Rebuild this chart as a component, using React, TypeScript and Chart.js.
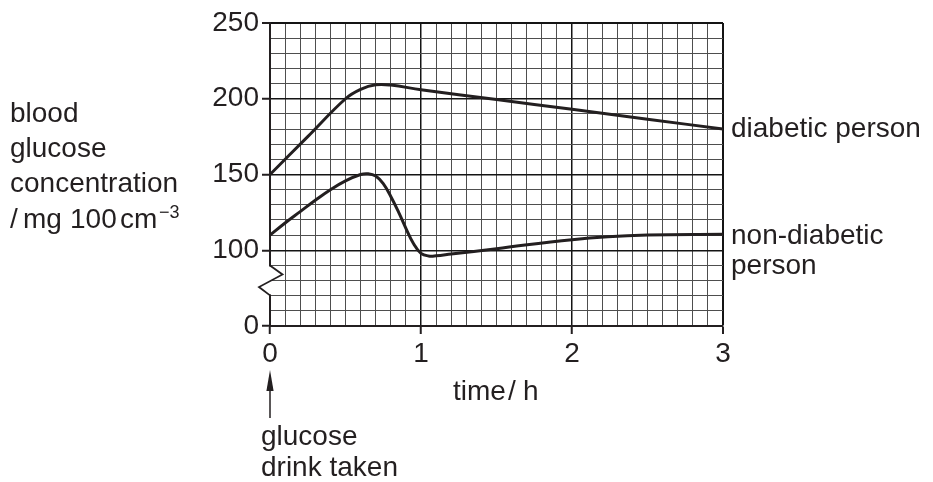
import React, { useEffect, useRef } from "react";
import { Chart, registerables } from "chart.js";

Chart.register(...registerables);

// ---- data ----
const diabeticTimes = [0, 0.25, 0.5, 0.6, 0.7, 0.8, 1.0, 1.5, 2.0, 2.5, 3.0];
const diabeticValues = [150, 175, 200, 206.2, 209.2, 209, 206, 199.5, 193, 186.5, 180];

const nonDiabeticTimes = [0, 0.1, 0.2, 0.3, 0.4, 0.5, 0.6, 0.65, 0.7, 0.75, 0.8, 0.85, 0.9, 0.95, 1.0, 1.05, 1.1, 1.2, 1.5, 2.0, 2.5, 3.0];
const nonDiabeticValues = [110, 118, 125.5, 133, 140, 145.8, 150, 150.5, 149, 144, 135.5, 125.5, 114.5, 104.5, 98, 96.2, 96.3, 97.5, 101, 107, 110, 110.5];

// y axis is broken: the bottom grid line (value 50 on the scale) is labelled "0"
const yMajorValues = [50, 100, 150, 200, 250];
const yTickLabels = ["0", "100", "150", "200", "250"];
const xMajorValues = [0, 1, 2, 3];
const xTickLabels = ["0", "1", "2", "3"];

const yTitleLines = ["blood", "glucose", "concentration"];
const seriesLabels = ["diabetic person", "non-diabetic", "person"];
const xTitleParts = ["time", "/", "h"];
const noteLines = ["glucose", "drink taken"];

const INK = "#231f20";
const FONT = '"Liberation Sans", Arial, Helvetica, sans-serif';

const near = (a: number, b: number) => Math.abs(a - b) < 1e-6;
const yMajorIndex = (v: number) => yMajorValues.findIndex((m) => near(m, v));
const xMajorIndex = (v: number) => xMajorValues.findIndex((m) => near(m, v));

const annotations = {
  id: "annotations",
  afterDraw(chart: any) {
    const { ctx, chartArea, scales } = chart;
    const left = chartArea.left;
    const y = scales.y;
    ctx.save();

    // axis break (zig-zag)
    const yb1 = y.getPixelForValue(90);
    const yb2 = y.getPixelForValue(84);
    const yb3 = y.getPixelForValue(75.7);
    const yb4 = y.getPixelForValue(70.2);
    ctx.fillStyle = "#ffffff";
    ctx.fillRect(left - 2, yb1 + 1, 4, yb4 - yb1 - 2);
    ctx.strokeStyle = INK;
    ctx.lineWidth = 1.8;
    ctx.lineJoin = "miter";
    ctx.beginPath();
    ctx.moveTo(left, yb1);
    ctx.lineTo(left + 12.5, yb2);
    ctx.lineTo(left - 11, yb3);
    ctx.lineTo(left, yb4);
    ctx.stroke();

    ctx.fillStyle = INK;
    ctx.textBaseline = "alphabetic";
    ctx.textAlign = "left";
    ctx.font = `28px ${FONT}`;

    // y-axis title
    const yTitleBaselines = [122, 157, 192];
    yTitleLines.forEach((t, i) => ctx.fillText(t, 10, yTitleBaselines[i]));
    ctx.fillText("/", 10, 227.5);
    ctx.fillText("mg", 23, 227.5);
    ctx.fillText("100", 70, 227.5);
    ctx.fillText("cm", 120, 227.5);
    ctx.font = `18px ${FONT}`;
    ctx.fillText("\u22123", 159, 217.5);
    ctx.font = `28px ${FONT}`;

    // series labels
    ctx.fillText(seriesLabels[0], 731, 137);
    ctx.fillText(seriesLabels[1], 731, 244);
    ctx.fillText(seriesLabels[2], 731, 273.5);

    // x-axis title
    ctx.fillText(xTitleParts[0], 453, 399.5);
    ctx.fillText(xTitleParts[1], 508, 399.5);
    ctx.fillText(xTitleParts[2], 523, 399.5);

    // arrow + note
    const ax = scales.x.getPixelForValue(0);
    ctx.lineWidth = 1.5;
    ctx.beginPath();
    ctx.moveTo(ax, 418);
    ctx.lineTo(ax, 388);
    ctx.stroke();
    ctx.beginPath();
    ctx.moveTo(ax, 370);
    ctx.lineTo(ax - 3.6, 391);
    ctx.lineTo(ax + 3.6, 391);
    ctx.closePath();
    ctx.fill();
    ctx.fillText(noteLines[0], 261, 445);
    ctx.fillText(noteLines[1], 261, 476);

    ctx.restore();
  },
};

export default function App() {
  const canvasRef = useRef<HTMLCanvasElement | null>(null);

  useEffect(() => {
    if (!canvasRef.current) return;
    const chart = new Chart(canvasRef.current, {
      type: "line",
      data: {
        datasets: [
          {
            label: "diabetic person",
            data: diabeticTimes.map((t, i) => ({ x: t, y: diabeticValues[i] })),
            borderColor: INK,
            borderWidth: 3,
            pointRadius: 0,
            tension: 0.4,
            fill: false,
          },
          {
            label: "non-diabetic person",
            data: nonDiabeticTimes.map((t, i) => ({ x: t, y: nonDiabeticValues[i] })),
            borderColor: INK,
            borderWidth: 3,
            pointRadius: 0,
            tension: 0.4,
            fill: false,
          },
        ],
      },
      options: {
        animation: false,
        responsive: false,
        devicePixelRatio: 1,
        layout: { padding: { left: 0, top: 23, right: 210, bottom: 0 } },
        plugins: {
          legend: { display: false },
          tooltip: { enabled: false },
          title: { display: false },
        },
        scales: {
          x: {
            type: "linear",
            min: 0,
            max: 3,
            afterFit: (s: any) => {
              s.height = 156;
            },
            ticks: {
              stepSize: 0.1,
              autoSkip: false,
              maxRotation: 0,
              padding: 3,
              color: INK,
              font: { family: FONT, size: 28 },
              callback: (v: any) => {
                const i = xMajorIndex(Number(v));
                return i >= 0 ? xTickLabels[i] : "";
              },
            },
            grid: {
              color: (c: any) => (c.tick && xMajorIndex(c.tick.value) >= 0 ? "#141414" : "#4e4e4e"),
              lineWidth: (c: any) => {
                if (!c.tick) return 1;
                if (near(c.tick.value, 3)) return 2;
                return xMajorIndex(c.tick.value) >= 0 ? 1.5 : 1;
              },
              tickLength: 8,
              tickWidth: 2,
              tickColor: (c: any) => (c.tick && xMajorIndex(c.tick.value) >= 0 ? INK : "rgba(0,0,0,0)"),
            },
            border: { display: true, color: INK, width: 2 },
          },
          y: {
            type: "linear",
            min: 50,
            max: 250,
            afterFit: (s: any) => {
              s.width = 270;
            },
            ticks: {
              stepSize: 10,
              autoSkip: false,
              padding: 3,
              color: INK,
              font: { family: FONT, size: 28 },
              callback: (v: any) => {
                const i = yMajorIndex(Number(v));
                return i >= 0 ? yTickLabels[i] : "";
              },
            },
            grid: {
              color: (c: any) => (c.tick && yMajorIndex(c.tick.value) >= 0 ? "#141414" : "#4e4e4e"),
              lineWidth: (c: any) => {
                if (!c.tick) return 1;
                if (near(c.tick.value, 250)) return 2;
                return yMajorIndex(c.tick.value) >= 0 ? 1.5 : 1;
              },
              tickLength: 8,
              tickWidth: 2,
              tickColor: (c: any) => (c.tick && yMajorIndex(c.tick.value) >= 0 ? INK : "rgba(0,0,0,0)"),
            },
            border: { display: true, color: INK, width: 2 },
          },
        },
      },
      plugins: [annotations],
    } as any);
    return () => chart.destroy();
  }, []);

  return (
    <div style={{ position: "fixed", left: 0, top: 0, width: 933, height: 482, background: "#ffffff" }}>
      <canvas ref={canvasRef} width={933} height={482} style={{ display: "block", width: 933, height: 482 }} />
    </div>
  );
}
